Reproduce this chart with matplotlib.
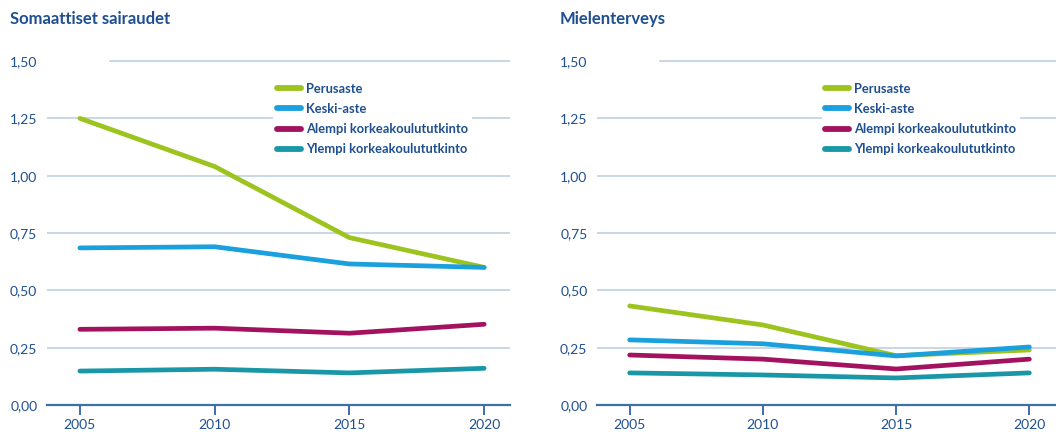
import matplotlib
matplotlib.use("Agg")
import matplotlib.pyplot as plt

years = [2005, 2010, 2015, 2020]
series_names = ["Perusaste", "Keski-aste", "Alempi korkeakoulututkinto", "Ylempi korkeakoulututkinto"]
colors = ["#9cc31e", "#1aa0dd", "#a3125e", "#1a97a6"]

# Somaattiset sairaudet
somatic = [
    [1.25, 1.04, 0.73, 0.60],
    [0.685, 0.69, 0.615, 0.60],
    [0.33, 0.335, 0.313, 0.352],
    [0.148, 0.156, 0.14, 0.16],
]
# Mielenterveys
mental = [
    [0.432, 0.349, 0.215, 0.24],
    [0.284, 0.267, 0.214, 0.253],
    [0.218, 0.200, 0.157, 0.200],
    [0.140, 0.131, 0.118, 0.140],
]
titles = ["Somaattiset sairaudet", "Mielenterveys"]
yticks = [0.0, 0.25, 0.5, 0.75, 1.0, 1.25, 1.5]

TEXT = "#1f4f8f"
GRID = "#b9cde0"
AXIS = "#3d6fa8"

plt.rcParams["font.family"] = ["Lato", "DejaVu Sans"]

fig = plt.figure(figsize=(10.56, 4.32), dpi=100)
boxes = [(0.0445, 0.0625, 0.4385, 0.86), (0.5655, 0.0625, 0.4345, 0.86)]
title_x = [10 / 1056, 560 / 1056]

for i, (data, title) in enumerate(zip([somatic, mental], titles)):
    ax = fig.add_axes(boxes[i])
    ax.set_xlim(2003.78, 2020.96 if i == 0 else 2021.0)
    ax.set_ylim(0, 1.62)
    for name, vals, c in zip(series_names, data, colors):
        ax.plot(years, vals, color=c, lw=3.4, label=name, solid_capstyle="round", zorder=3)
    for y in yticks[1:]:
        xmin = 0.137 if y == 1.5 else 0.0
        ax.axhline(y, xmin=xmin, color=GRID, lw=1.1, zorder=1)
    for s in ["top", "right", "left"]:
        ax.spines[s].set_visible(False)
    ax.spines["bottom"].set_color(AXIS)
    ax.spines["bottom"].set_linewidth(1.6)
    ax.set_xticks(years)
    ax.set_xticklabels([str(y) for y in years])
    ax.set_yticks(yticks)
    ax.set_yticklabels([f"{y:.2f}".replace(".", ",") for y in yticks])
    ax.tick_params(axis="x", colors=AXIS, direction="out", length=7, width=1.4,
                   labelcolor=TEXT, labelsize=10, pad=3)
    ax.tick_params(axis="y", length=0, labelcolor=TEXT, labelsize=10, pad=7)
    leg = ax.legend(loc="upper left", bbox_to_anchor=(0.475, 0.895),
                    frameon=True, fancybox=False, edgecolor="none", facecolor="white",
                    framealpha=1, handlelength=1.8, handletextpad=0.4,
                    labelspacing=0.63, borderpad=0.3, prop={"size": 9.3, "weight": "bold"})
    for t in leg.get_texts():
        t.set_color(TEXT)
    for h in leg.get_lines():
        h.set_linewidth(4.2)
        h.set_solid_capstyle("round")
    leg.set_zorder(5)
    fig.text(title_x[i], 0.955, title, color=TEXT, fontsize=12, fontweight="bold",
             ha="left", va="center")

fig.savefig("out.png", dpi=100)
